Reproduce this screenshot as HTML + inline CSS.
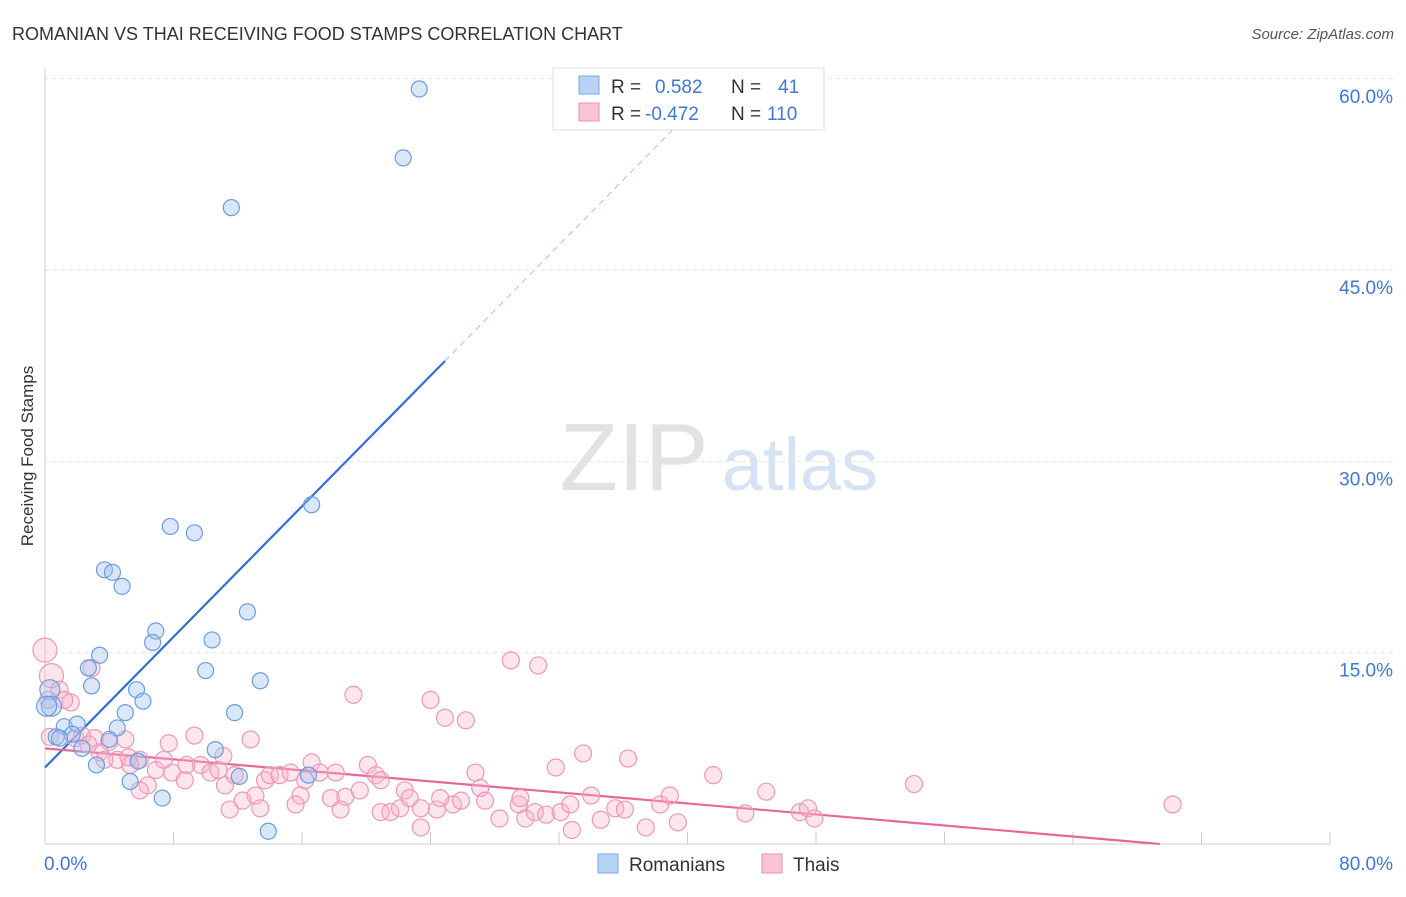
<!DOCTYPE html>
<html><head><meta charset="utf-8"><style>
body{margin:0;background:#fff;font-family:"Liberation Sans",sans-serif}
svg text{font-family:"Liberation Sans",sans-serif}
</style></head><body>
<svg id="chart" width="1406" height="892" viewBox="0 0 1406 892" xmlns="http://www.w3.org/2000/svg">
<text x="12" y="40" font-size="18" fill="#333">ROMANIAN VS THAI RECEIVING FOOD STAMPS CORRELATION CHART</text>
<text x="1394" y="39" font-size="15" fill="#555" font-style="italic" text-anchor="end">Source: ZipAtlas.com</text>
<text x="33" y="456" font-size="17" fill="#333" text-anchor="middle" transform="rotate(-90 33 456)">Receiving Food Stamps</text>
<g>
<text x="634" y="490" font-size="96" fill="#e2e2e2" font-family="Liberation Serif" text-anchor="middle">ZIP</text>
<text x="800" y="490" font-size="74" fill="#d5e3f5" text-anchor="middle">atlas</text>
</g>
<g id="grid"></g><g id="axes"></g><g id="lines"></g><g id="points"></g>
<g>
<rect x="553" y="68" width="271" height="62" fill="#fff" stroke="#ddd"/>
<rect x="579" y="76" width="20" height="18" fill="#b8d3f5" stroke="#7aa8e6"/>
<rect x="579" y="103" width="20" height="18" fill="#f9c4d4" stroke="#ee8fae"/>
<text x="611" y="93" font-size="19" fill="#333">R = </text><text x="655" y="93" font-size="19" fill="#3d78d8">0.582</text>
<text x="731" y="93" font-size="19" fill="#333">N = </text><text x="778" y="93" font-size="19" fill="#3d78d8">41</text>
<text x="611" y="120" font-size="19" fill="#333">R = </text><text x="645" y="120" font-size="19" fill="#3d78d8">-0.472</text>
<text x="731" y="120" font-size="19" fill="#333">N = </text><text x="767" y="120" font-size="19" fill="#3d78d8">110</text>
</g>
<g>
<rect x="598" y="854" width="20" height="19" fill="#b8d3f5" stroke="#7aa8e6"/>
<text x="629" y="871" font-size="19" fill="#333">Romanians</text>
<rect x="762" y="854" width="20" height="19" fill="#f9c4d4" stroke="#ee8fae"/>
<text x="793" y="871" font-size="19" fill="#333">Thais</text>
</g>
</svg>
<script>
const yTicks=[15,30,45,60];
const yTickLabels=["15.0%","30.0%","45.0%","60.0%"];
const xTicks=[0,8,16,24,32,40,48,56,64,72,80];
const romX=[23.3,22.3,11.6,16.6,7.8,9.3,3.7,4.2,4.8,12.6,6.9,6.7,10.4,3.4,2.7,10.0,2.9,13.4,0.3,5.7,6.1,0.4,5.0,11.8,1.2,2.0,4.5,0.7,1.7,4.0,2.3,10.6,5.8,3.2,12.1,16.4,5.3,7.3,13.9,0.9,0.1];
const romY=[59.2,53.8,49.9,26.6,24.9,24.4,21.5,21.3,20.2,18.2,16.7,15.8,16.0,14.8,13.8,13.6,12.4,12.8,12.1,12.1,11.2,10.8,10.3,10.3,9.2,9.4,9.1,8.4,8.6,8.2,7.5,7.4,6.5,6.2,5.3,5.4,4.9,3.6,1.0,8.3,10.8];
const thaiX=[0,0.4,0.9,1.6,2.9,2.3,4.0,3.4,4.5,5.3,5.9,6.9,7.7,7.9,8.7,9.3,9.7,10.3,10.8,11.2,11.8,12.8,13.1,13.7,14.0,14.6,15.3,15.9,16.2,16.6,17.1,17.8,18.1,18.7,19.2,19.6,20.1,20.6,20.9,21.5,22.1,22.4,22.7,23.4,24.0,24.4,24.9,25.4,26.2,26.8,27.1,27.4,28.3,29.0,29.5,29.9,30.5,30.7,31.2,31.8,32.1,32.7,32.8,33.5,34.0,34.6,35.5,36.1,36.3,37.4,38.3,38.9,39.4,41.6,43.6,44.9,47.0,47.5,47.9,54.1,70.2,11.5,12.3,13.4,15.6,18.4,20.9,23.4,25.9,29.6,24.6,11.1,8.8,7.4,6.4,5.2,3.7,5.0,5.9,3.1,1.9,2.7,1.2,0.2,0.3];
const thaiY=[15.2,13.2,12.1,11.1,13.8,8.5,8.0,7.2,6.6,6.2,6.6,5.8,7.9,5.6,5.0,8.5,6.2,5.6,5.8,4.6,5.4,8.2,3.8,5.0,5.4,5.4,5.6,3.8,5.0,6.4,5.6,3.6,5.6,3.7,11.7,4.2,6.2,5.4,5.0,2.5,2.8,4.2,3.6,1.3,11.3,2.7,9.9,3.1,9.7,5.6,4.4,3.4,2.0,14.4,3.1,2.0,2.5,14.0,2.3,6.0,2.5,3.1,1.1,7.1,3.8,1.9,2.8,2.7,6.7,1.3,3.1,3.8,1.7,5.4,2.4,4.1,2.5,2.8,2.0,4.7,3.1,2.7,3.4,2.8,3.1,2.7,2.5,2.8,3.4,3.6,3.6,6.9,6.2,6.6,4.6,6.8,6.6,8.2,4.2,8.3,8.3,7.8,11.3,11.3,8.4];
const romLine=[6.0,1.28,0,24.9,39.2];   // intercept, slope, xStart, solidEnd, dashedEnd
const thaiLine=[7.5,-0.108,0,69.4];
const X=v=>45+v/80*1285, Y=v=>844-v/15*191.3;
const NS="http://www.w3.org/2000/svg";
function mk(p,t,a){const e=document.createElementNS(NS,t);for(const k in a)e.setAttribute(k,a[k]);p.appendChild(e);return e;}
const grid=document.getElementById('grid'),axes=document.getElementById('axes'),lines=document.getElementById('lines'),pts=document.getElementById('points');
yTicks.forEach((t,i)=>{const l=mk(grid,'line',{x1:45,x2:1394,y1:Y(t),y2:Y(t),stroke:'#e2e2e2','stroke-dasharray':'4,4'});


const tx=mk(axes,'text',{x:1393,y:Y(t)+24,'font-size':19,fill:'#3d78d8','text-anchor':'end'});tx.textContent=yTickLabels[i];

});
mk(axes,'line',{x1:45,x2:45,y1:68,y2:844,stroke:'#ccc'});
mk(axes,'line',{x1:45,x2:1330,y1:844,y2:844,stroke:'#ccc'});
xTicks.forEach(t=>{const l=mk(axes,'line',{x1:X(t),x2:X(t),y1:832,y2:844,stroke:'#ccc'});

});
let t0=mk(axes,'text',{x:44,y:870,'font-size':19,fill:'#3d78d8'});t0.textContent='0.0%';


let t1=mk(axes,'text',{x:1393,y:870,'font-size':19,fill:'#3d78d8','text-anchor':'end'});t1.textContent='80.0%';


thaiX.forEach((x,i)=>{const c=mk(pts,'circle',{cx:X(x),cy:Y(thaiY[i]),r:i<2?12:8.5,fill:'rgba(248,180,202,0.35)',stroke:'#ee98b5','stroke-width':1.2});

});
romX.forEach((x,i)=>{const c=mk(pts,'circle',{cx:X(x),cy:Y(romY[i]),r:x<0.5?10:8,fill:'rgba(160,196,240,0.4)',stroke:'#6b9de0','stroke-width':1.2});

});
const rf=x=>romLine[0]+romLine[1]*x;
let a=mk(lines,'line',{x1:X(romLine[2]),y1:Y(rf(romLine[2])),x2:X(romLine[3]),y2:Y(rf(romLine[3])),stroke:'#2f6fd6','stroke-width':2.2});


let b=mk(lines,'line',{x1:X(romLine[3]),y1:Y(rf(romLine[3])),x2:X(romLine[4]),y2:Y(rf(romLine[4])),stroke:'#9fc0ea','stroke-width':1,'stroke-dasharray':'6,5'});


const tf=x=>thaiLine[0]+thaiLine[1]*x;
let c=mk(lines,'line',{x1:X(thaiLine[2]),y1:Y(tf(thaiLine[2])),x2:X(thaiLine[3]),y2:Y(tf(thaiLine[3])),stroke:'#e8679a','stroke-width':2.2});


</script>
</body></html>
